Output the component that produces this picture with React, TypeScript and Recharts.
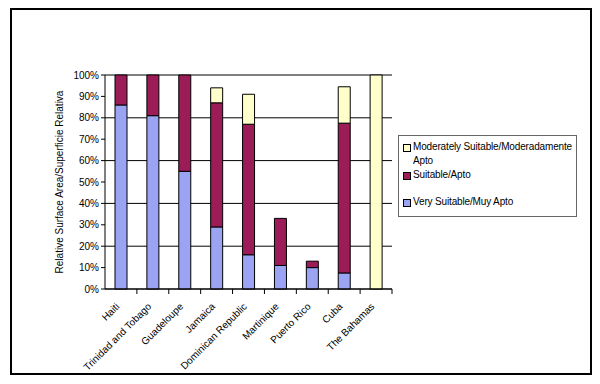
import React from "react";
import {
  BarChart,
  Bar,
  XAxis,
  YAxis,
  CartesianGrid,
  Legend,
} from "recharts";

const categories = [
  "Haiti",
  "Trinidad and Tobago",
  "Guadeloupe",
  "Jamaica",
  "Dominican Republic",
  "Martinique",
  "Puerto Rico",
  "Cuba",
  "The Bahamas",
];
const verySuitable = [86, 81, 55, 29, 16, 11, 10, 7.5, 0];
const suitable = [14, 19, 45, 58, 61, 22, 3, 70, 0];
const moderatelySuitable = [0, 0, 0, 7, 14, 0, 0, 17, 100];
const yTicks = [0, 10, 20, 30, 40, 50, 60, 70, 80, 90, 100];

const data = categories.map((name, i) => ({
  name,
  very: verySuitable[i],
  suitable: suitable[i],
  moderate: moderatelySuitable[i],
}));

const FONT = "'Liberation Sans', Arial, sans-serif";
const W = 600;
const H = 384;
const MARGIN = { top: 75, right: 208, bottom: 15, left: 0 };
const Y_W = 105;
const X_H = 80;
const BAND = (W - MARGIN.left - Y_W - MARGIN.right) / categories.length;

function XTick({ x, y, payload }: any) {
  const tx = x - 6;
  const ty = y + 6;
  return (
    <g>
      <line x1={x + BAND / 2} x2={x + BAND / 2} y1={y - 7} y2={y - 2} stroke="#000" />
      <text
        x={tx}
        y={ty}
        transform={`rotate(-45, ${tx}, ${ty})`}
        textAnchor="end"
        dominantBaseline="hanging"
        fontSize={10}
        fontFamily={FONT}
        fill="#000"
      >
        {payload.value}
      </text>
    </g>
  );
}

function YTitle({ viewBox }: any) {
  const cx = (viewBox?.x ?? 0) + 59;
  const cy = MARGIN.top + (H - MARGIN.top - MARGIN.bottom - X_H) / 2;
  return (
    <text
      x={cx}
      y={cy}
      transform={`rotate(-90, ${cx}, ${cy})`}
      textAnchor="middle"
      dominantBaseline="central"
      fontSize={10}
      fontFamily={FONT}
      fill="#000"
    >
      Relative Surface Area/Superficie Relativa
    </text>
  );
}

// Excel lists the top segment first
const legendOrder = ["moderate", "suitable", "very"];

function LegendBox({ payload }: any) {
  const items = legendOrder
    .map((k) => (payload || []).find((p: any) => p.dataKey === k))
    .filter(Boolean);
  return (
    <div
      style={{
        width: 179,
        height: 82,
        boxSizing: "border-box",
        border: "1px solid #666",
        padding: "4px 0 0 4px",
        fontFamily: FONT,
        fontSize: 10,
        letterSpacing: "-0.15px",
        color: "#000",
        background: "#fff",
      }}
    >
      {items.map((it: any, i: number) => (
        <div
          key={it.value}
          style={{
            display: "flex",
            alignItems: "flex-start",
            lineHeight: "14px",
            marginBottom: i === 1 ? 13 : 0,
          }}
        >
          <span
            style={{
              display: "inline-block",
              width: 6,
              height: 6,
              marginTop: 4,
              marginRight: 2,
              border: "1px solid #000",
              background: it.color,
              flexShrink: 0,
            }}
          />
          <span style={{ width: 166, flexShrink: 0 }}>{it.value}</span>
        </div>
      ))}
    </div>
  );
}

export default function App() {
  return (
    <div style={{ position: "absolute", left: 0, top: 0, width: W, height: H, background: "#fff" }}>
      <BarChart width={W} height={H} data={data} margin={MARGIN} barSize={12}>
        <CartesianGrid horizontal vertical={false} stroke="#000" strokeWidth={1} fill="#fff" />
        <XAxis
          dataKey="name"
          interval={0}
          height={X_H}
          tick={<XTick />}
          tickLine={false}
          tickSize={5}
          tickMargin={2}
          axisLine={{ stroke: "#000" }}
        />
        <YAxis
          width={Y_W}
          domain={[0, 100]}
          ticks={yTicks}
          tickFormatter={(v) => `${v}%`}
          tick={{ fontSize: 10, fill: "#000", fontFamily: FONT }}
          tickSize={4}
          tickMargin={2}
          tickLine={{ stroke: "#000" }}
          axisLine={{ stroke: "#000" }}
          label={<YTitle />}
        />
        <YAxis
          yAxisId="right"
          orientation="right"
          width={0}
          domain={[0, 100]}
          tick={false}
          tickLine={false}
          axisLine={{ stroke: "#000" }}
        />
        <Legend
          layout="vertical"
          align="center"
          verticalAlign="middle"
          content={<LegendBox />}
          wrapperStyle={{ left: 398, top: 135, width: 179 }}
        />
        <Bar dataKey="very" name="Very Suitable/Muy Apto" stackId="a" fill="#9aa4f2" stroke="#000" strokeWidth={1} isAnimationActive={false} />
        <Bar dataKey="suitable" name="Suitable/Apto" stackId="a" fill="#9c1c58" stroke="#000" strokeWidth={1} isAnimationActive={false} />
        <Bar dataKey="moderate" name="Moderately Suitable/Moderadamente Apto" stackId="a" fill="#ffffcc" stroke="#000" strokeWidth={1} isAnimationActive={false} />
      </BarChart>
      <div
        style={{
          position: "absolute",
          left: 10,
          top: 8,
          width: 582,
          height: 367,
          boxSizing: "border-box",
          border: "2px solid #000",
          pointerEvents: "none",
        }}
      />
    </div>
  );
}
